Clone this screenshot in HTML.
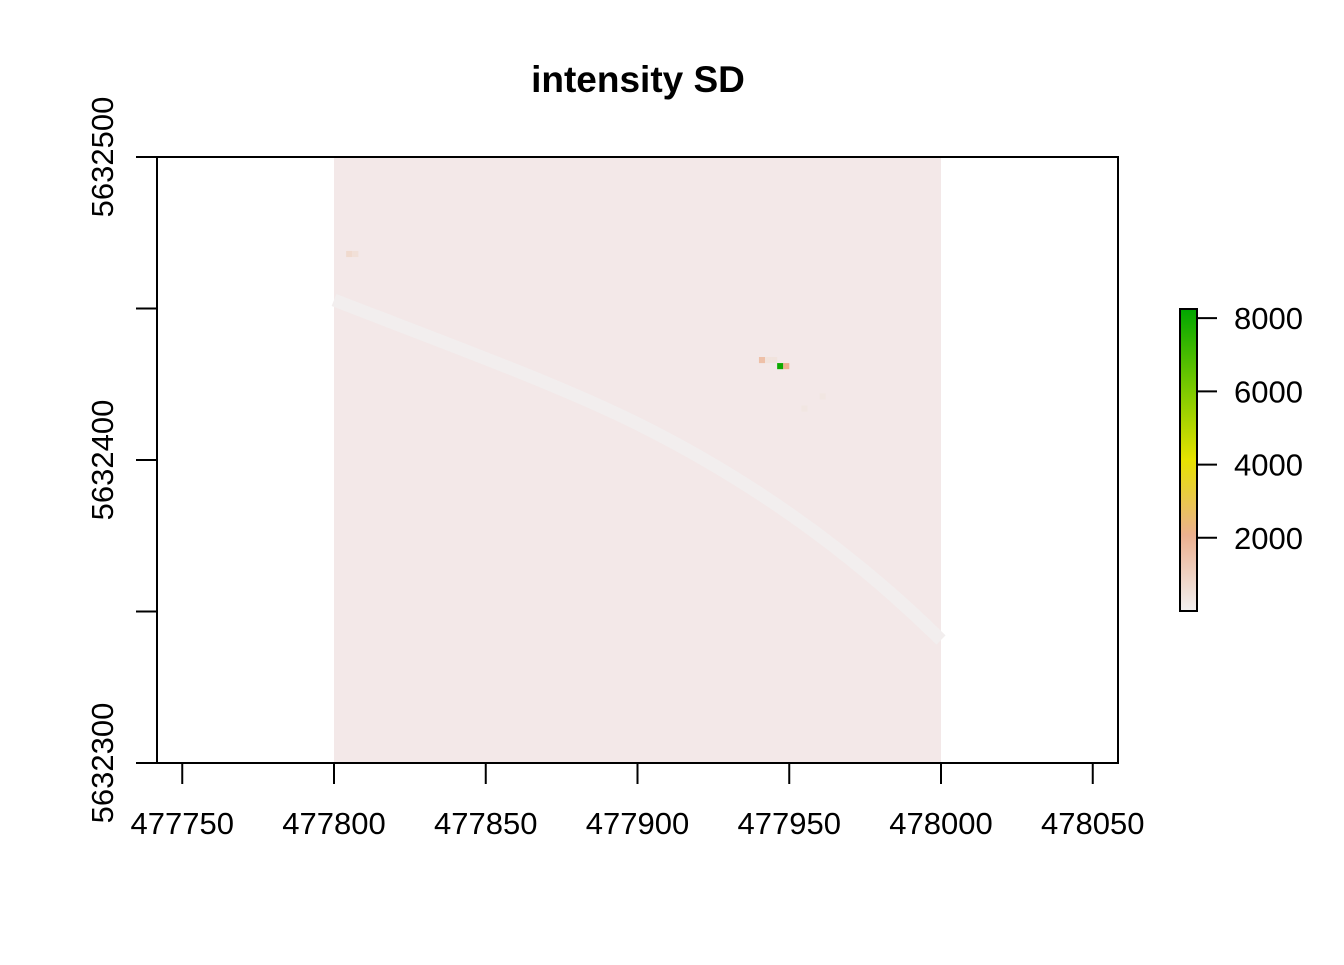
<!DOCTYPE html>
<html><head><meta charset="utf-8"><style>
body{margin:0;background:#fff;}
svg text{font-family:"Liberation Sans",Arial,sans-serif;}
</style></head><body>
<svg id="chart" width="1344" height="960" xmlns="http://www.w3.org/2000/svg">
<defs>
<linearGradient id="cb" x1="0" y1="1" x2="0" y2="0">
<stop offset="0" stop-color="#f2f0f0"/>
<stop offset="0.25" stop-color="#ecb090"/>
<stop offset="0.5" stop-color="#e6e200"/>
<stop offset="0.75" stop-color="#74c800"/>
<stop offset="1" stop-color="#00a600"/>
</linearGradient>
</defs>
<text x="638" y="92" text-anchor="middle" font-size="37" font-weight="bold">intensity SD</text>
<g id="raster"></g>
<rect x="157" y="157" width="961" height="606" fill="none" stroke="#000" stroke-width="2"/>
<g id="axes"></g>
<g id="legend"></g>
</svg>
<script>
const xTicks=[477750,477800,477850,477900,477950,478000,478050];
const yTicks=[5632300,5632350,5632400,5632450,5632500];
const yLabels=["5632300","","5632400","","5632500"];
const extentX=[477800,478000];
const extentY=[5632300,5632500];
const hotX=[477805,477807,477941,477943,477945,477947,477949,477955,477961];
const hotY=[5632468,5632468,5632433,5632433,5632433,5632431,5632431,5632417,5632421];
const hotV=[700,500,1500,400,400,8000,2000,300,300];
const legendTicks=[2000,4000,6000,8000];
const legendRange=[0,8250];

const NS="http://www.w3.org/2000/svg";
const X=v=>334+(v-477800)*3.035;
const Y=v=>763-(v-5632300)*3.03;
const LY=v=>611-(v-legendRange[0])/(legendRange[1]-legendRange[0])*302;
function mk(t,a,p){const e=document.createElementNS(NS,t);for(const k in a)e.setAttribute(k,a[k]);p.appendChild(e);return e;}
function col(v){
  const stops=[[0,[242,240,240]],[2000,[236,176,144]],[4000,[230,226,0]],[6000,[116,200,0]],[8250,[0,166,0]]];
  for(let i=1;i<stops.length;i++){if(v<=stops[i][0]){const a=stops[i-1],b=stops[i];const t=(v-a[0])/(b[0]-a[0]);
  return "rgb("+a[1].map((c,j)=>Math.round(c+(b[1][j]-c)*t)).join(",")+")";}}
  return "rgb(0,166,0)";
}
const r=document.getElementById('raster');
const bg=mk('rect',{x:X(extentX[0]),y:Y(extentY[1]),width:X(extentX[1])-X(extentX[0]),height:Y(extentY[0])-Y(extentY[1]),fill:'#f3e8e8'},r);


const road=mk('path',{d:"M334,300 C450,345 560,385 640,425 C760,485 860,560 941,640",fill:'none',stroke:'#f2eeee','stroke-width':13},r);


hotX.forEach((x,i)=>{
  const c=mk('rect',{x:X(x)-3,y:Y(hotY[i])-3,width:6.1,height:6.1,fill:col(hotV[i])},r);
  
  
});
const ax=document.getElementById('axes');
xTicks.forEach(v=>{
  const l=mk('line',{x1:X(v),x2:X(v),y1:763,y2:784,stroke:'#000','stroke-width':2},ax);
  
  
  const t=mk('text',{x:X(v),y:834,'text-anchor':'middle','font-size':31},ax);t.textContent=v;
  
  
});
yTicks.forEach((v,i)=>{
  const l=mk('line',{x1:136,x2:157,y1:Y(v),y2:Y(v),stroke:'#000','stroke-width':2},ax);
  
  
  if(yLabels[i]){const t=mk('text',{x:0,y:0,'text-anchor':'middle','font-size':31,transform:`translate(113,${Y(v)}) rotate(-90)`},ax);t.textContent=yLabels[i];
  
  }
});
const lg=document.getElementById('legend');
const bar=mk('rect',{x:1180,y:LY(legendRange[1]),width:17,height:LY(legendRange[0])-LY(legendRange[1]),fill:'url(#cb)',stroke:'#000','stroke-width':2},lg);


legendTicks.forEach(v=>{
  const l=mk('line',{x1:1197,x2:1217,y1:LY(v),y2:LY(v),stroke:'#000','stroke-width':2},lg);
  
  
  const t=mk('text',{x:1234,y:LY(v)+11,'font-size':31},lg);t.textContent=v;
  
  
});
</script>
</body></html>
